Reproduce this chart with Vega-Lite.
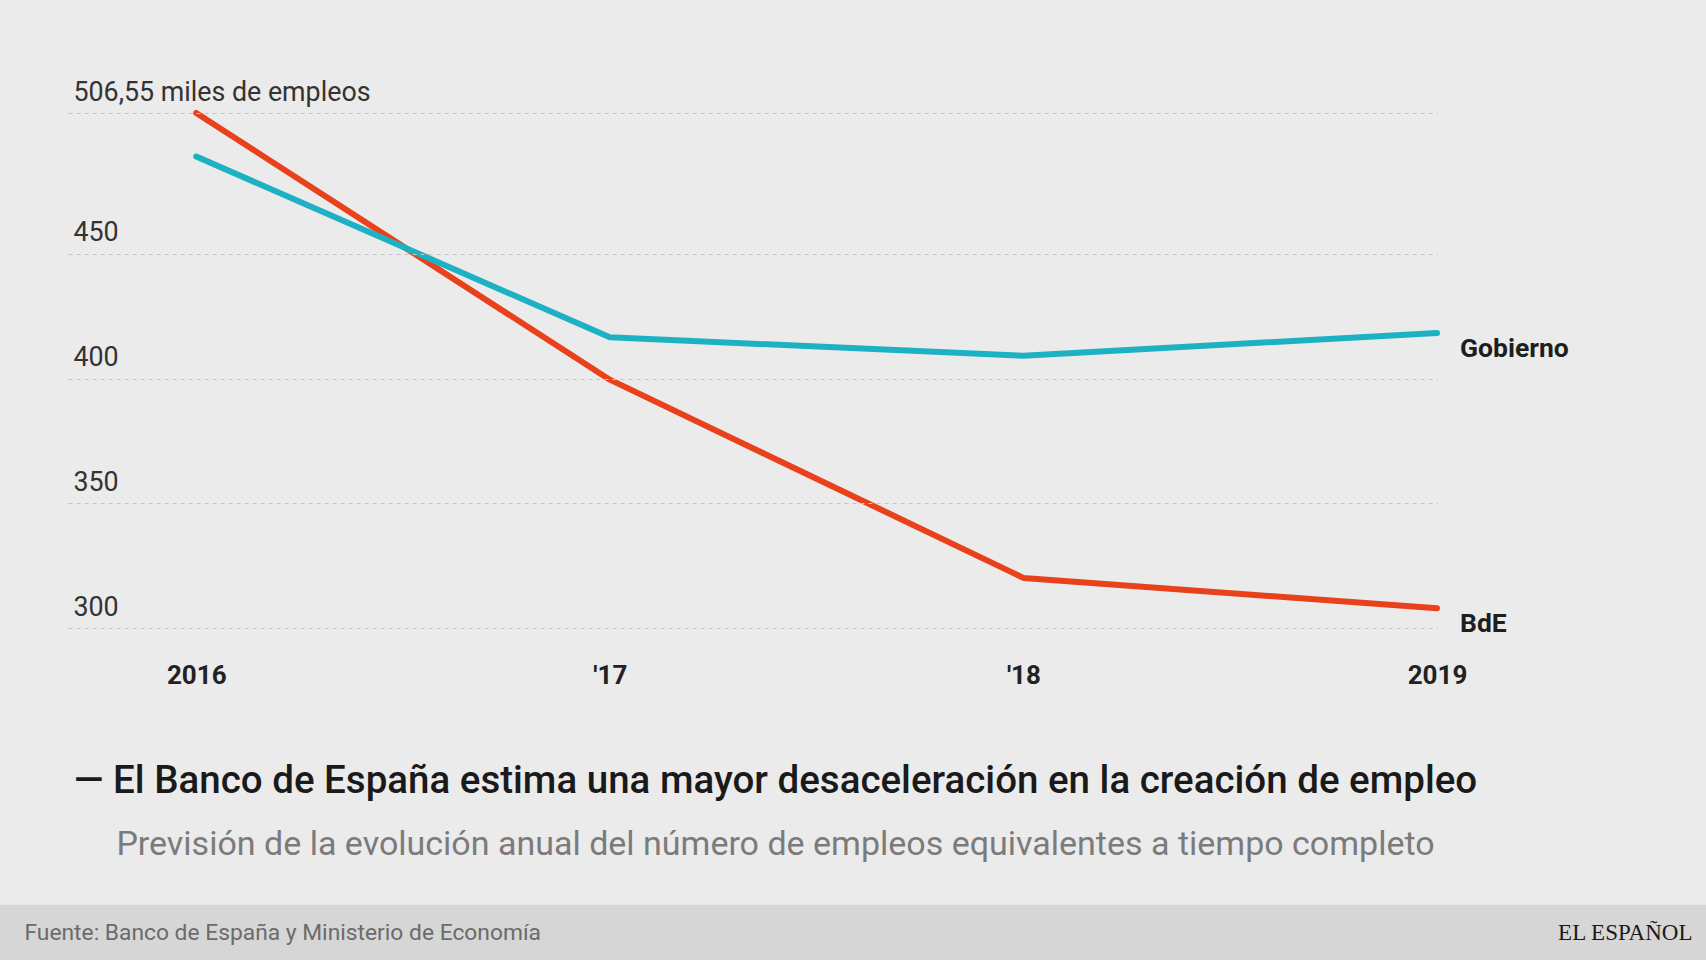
{
  "$schema": "https://vega.github.io/schema/vega-lite/v6.json",
  "autosize": {"type": "none"},
  "width": 1369,
  "height": 515,
  "padding": {"left": 68, "top": 113, "right": 269, "bottom": 332},
  "background": "#ebebeb",
  "config": {
    "view": {"stroke": null},
    "font": "Roboto"
  },
  "title": {
    "text": "— El Banco de España estima una mayor desaceleración en la creación de empleo",
    "subtitle": "Previsión de la evolución anual del número de empleos equivalentes a tiempo completo",
    "orient": "bottom",
    "anchor": "middle",
    "frame": "group",
    "dx": 23,
    "dy": -202,
    "font": "Roboto",
    "fontSize": 38.5,
    "fontWeight": 500,
    "color": "#1a1a1a",
    "subtitleFont": "Roboto",
    "subtitleFontSize": 34,
    "subtitleFontWeight": 400,
    "subtitleColor": "#7b7b7b",
    "subtitlePadding": 27
  },
  "data": {
    "values": [
      {"year": 2016, "serie": "BdE", "value": 506.55},
      {"year": 2017, "serie": "BdE", "value": 399.6},
      {"year": 2018, "serie": "BdE", "value": 320.1},
      {"year": 2019, "serie": "BdE", "value": 307.9},
      {"year": 2016, "serie": "Gobierno", "value": 489.1},
      {"year": 2017, "serie": "Gobierno", "value": 416.6},
      {"year": 2018, "serie": "Gobierno", "value": 409.2},
      {"year": 2019, "serie": "Gobierno", "value": 418.3}
    ]
  },
  "encoding": {
    "x": {
      "field": "year",
      "type": "quantitative",
      "scale": {"domain": [2015.69, 2019], "nice": false, "zero": false},
      "axis": {
        "zindex": 1,
        "values": [2016, 2017, 2018, 2019],
        "labelExpr": "datum.value == 2017 ? \"'17\" : datum.value == 2018 ? \"'18\" : format(datum.value, 'd')",
        "grid": false,
        "domain": false,
        "ticks": false,
        "tickSize": 0,
        "labelPadding": 55,
        "labelBaseline": "alphabetic",
        "labelFont": "Roboto",
        "labelFontWeight": "bold",
        "labelFontSize": 26,
        "labelColor": "#222222",
        "labelFlush": false,
        "labelOverlap": false,
        "title": "Fuente: Banco de España y Ministerio de Economía",
        "titleX": -44,
        "titleY": 304,
        "titleAlign": "left",
        "titleAnchor": null,
        "titleBaseline": "middle",
        "titleFont": "Roboto",
        "titleFontSize": 22.8,
        "titleFontWeight": "normal",
        "titleColor": "#6b6b6b"
      }
    },
    "y": {
      "field": "value",
      "type": "quantitative",
      "scale": {"domain": [300, 506.55], "nice": false, "zero": false},
      "axis": {
        "zindex": 1,
        "values": [300, 350, 400, 450, 506.55],
        "labelExpr": "datum.value > 500 ? '506,55 miles de empleos' : format(datum.value, 'd')",
        "grid": true,
        "gridDash": [4, 4],
        "gridColor": "#c4c4c4",
        "gridWidth": 1.2,
        "domain": false,
        "ticks": false,
        "tickSize": 0,
        "labelAlign": "left",
        "labelBaseline": "alphabetic",
        "labelPadding": -5,
        "labelOffset": -13,
        "labelFont": "Roboto",
        "labelFontSize": 26.8,
        "labelColor": "#333333",
        "labelLimit": 1000,
        "labelFlush": false,
        "labelOverlap": false,
        "labelBound": false,
        "title": "EL ESPAÑOL",
        "titleAngle": 0,
        "titleX": 1624,
        "titleY": 819,
        "titleAlign": "right",
        "titleAnchor": null,
        "titleBaseline": "middle",
        "titleFont": "Liberation Serif",
        "titleFontSize": 23,
        "titleFontWeight": "normal",
        "titleColor": "#1a1a1a"
      }
    }
  },
  "layer": [
    {
      "data": {"values": [{"band": "footer", "x0": 2015.525, "x1": 2019.66, "y0": 189.0, "y1": 166.5}]},
      "mark": {"type": "rect", "color": "#d6d6d6", "clip": false},
      "encoding": {
        "x": {"field": "x0", "type": "quantitative"},
        "x2": {"field": "x1"},
        "y": {"field": "y0", "type": "quantitative"},
        "y2": {"field": "y1"}
      }
    },
    {
      "mark": {"type": "line", "strokeWidth": 6, "strokeCap": "round", "strokeJoin": "round"},
      "encoding": {
        "color": {
          "field": "serie",
          "type": "nominal",
          "scale": {"domain": ["Gobierno", "BdE"], "range": ["#1db1c4", "#e8411c"]},
          "legend": null
        }
      }
    },
    {
      "transform": [{"filter": "datum.year == 2019"}],
      "mark": {"type": "text", "align": "left", "baseline": "middle", "dx": 23, "dy": 16, "font": "Roboto", "fontWeight": "bold", "fontSize": 26.5, "color": "#1e1e1e"},
      "encoding": {
        "text": {"field": "serie", "type": "nominal"}
      }
    }
  ]
}
